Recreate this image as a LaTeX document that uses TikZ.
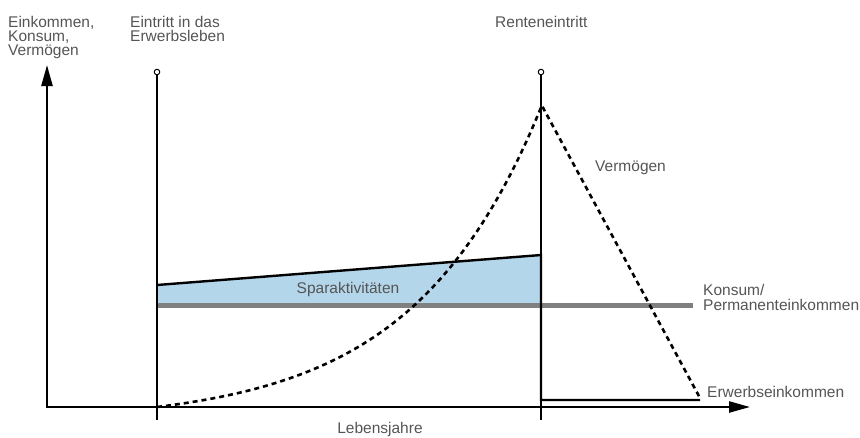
\documentclass[tikz,border=0pt]{standalone}
\usepackage{fontspec}
\setmainfont{Liberation Sans}
\usetikzlibrary{arrows.meta}
\definecolor{txtgray}{RGB}{85,85,85}
\definecolor{savblue}{RGB}{180,214,234}
\definecolor{linegray}{RGB}{128,128,128}
\begin{document}
\begin{tikzpicture}[x=1pt,y=-1pt,
  lbl/.style={font=\fontsize{15.5}{17}\selectfont, text=txtgray, inner sep=0pt},
  axisline/.style={line width=2.4pt, -{Triangle[length=21pt,width=11pt]}},
  marker/.style={line width=1.1pt},
  pin/.style={circle, draw, fill=white, line width=1pt, minimum size=5.5pt, inner sep=0pt},
  income/.style={line width=2.4pt, line join=miter},
  wealth/.style={line width=2.6pt, dash pattern=on 5pt off 4pt},
  consum/.style={line width=5pt, draw=linegray}]
\useasboundingbox (0,0) rectangle (860,437);

% coordinates
\coordinate (O) at (47,407);
\coordinate (Ytop) at (47,65);
\coordinate (Xend) at (750,407);
\coordinate (E1top) at (157,72);
\coordinate (E1bot) at (157,420);
\coordinate (R1top) at (541,72);
\coordinate (R1bot) at (541,420);
\coordinate (S0) at (157,285);
\coordinate (S1) at (541,255);
\coordinate (S2) at (541,303);
\coordinate (S3) at (157,303);
\coordinate (K0) at (157,305.3);
\coordinate (K1) at (693,305.3);
\coordinate (W1) at (541,400);
\coordinate (W2) at (700,400);
\coordinate (V1) at (700,398);

% savings area
\fill[savblue] (S0) -- (S1) -- (S2) -- (S3) -- cycle;
% consumption line
\draw[consum] (K0) -- (K1);

% axes
\draw[axisline] (O) -- (Ytop);
\draw[axisline] ([xshift=-1.2pt]O) -- (Xend);

% markers
\draw[marker] (E1top) -- (E1bot);
\draw[marker] (R1top) -- (R1bot);
\node[pin] (p1) at (E1top) {};
\node[pin] (p2) at (R1top) {};

% income
\draw[income] (S0) -- (S1) -- (W1) -- (W2);

% wealth
\draw[wealth] plot[domain=0:1,samples=90] ({157+385*\x},{407-302*(exp(3*\x)-1)/19.0855}) -- (V1);

% labels
\node[lbl, anchor=base west] (ya1) at (8,27) {Einkommen,};
\node[lbl, anchor=base west] (ya2) at (8,41) {Konsum,};
\node[lbl, anchor=base west] (ya3) at (8,55) {Vermögen};
\node[lbl, anchor=base west] (et1) at (130,27) {Eintritt in das};
\node[lbl, anchor=base west] (et2) at (130,41) {Erwerbsleben};
\node[lbl, anchor=base west] (re) at (495,27) {Renteneintritt};
\node[lbl, anchor=base west] (ve) at (595,171) {Vermögen};
\node[lbl, anchor=base] (sp) at (348,293) {Sparaktivitäten};
\node[lbl, anchor=base west] (ko1) at (703,295) {Konsum/};
\node[lbl, anchor=base west] (ko2) at (703,310) {Permanenteinkommen};
\node[lbl, anchor=base west] (ew) at (707,397) {Erwerbseinkommen};
\node[lbl, anchor=base] (lj) at (380,433) {Lebensjahre};
\end{tikzpicture}
\end{document}
